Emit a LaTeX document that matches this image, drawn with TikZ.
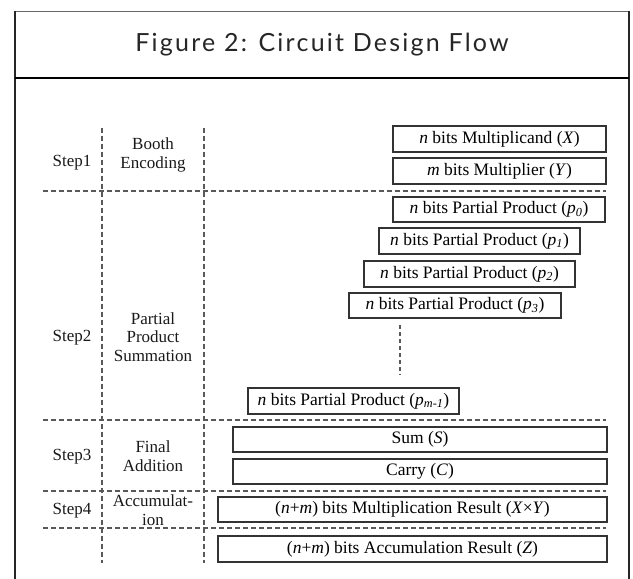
\documentclass[tikz,border=0pt]{standalone}
\usepackage{fontspec}
\setmainfont{Liberation Serif}
\newfontfamily\titlefont[LetterSpace=9]{Lato}
\begin{document}
\begin{tikzpicture}[x=1pt,y=-1pt,
  frameline/.style={draw=black!85,line width=1.6pt},
  grid/.style={draw=black!65,line width=1.3pt,dash pattern=on 5pt off 3pt},
  bitbox/.style={draw=black!80,line width=1.4pt,rectangle,inner sep=0pt,
    font=\fontsize{17.5}{19}\selectfont,text=black},
  steplabel/.style={font=\fontsize{17}{19}\selectfont,text=black!90},
  phaselabel/.style={font=\fontsize{17}{18.5}\selectfont,text=black!90,
    align=center,inner sep=0pt}]
\useasboundingbox (0,0) rectangle (633,579);
\clip (0,0) rectangle (633,579);
% outer frame and title band
\draw[draw=black!60,line width=1pt] (15,11) -- (629,11);
\draw[frameline] (15,11) -- (15,600);
\draw[frameline] (629,11) -- (629,600);
\draw[draw=black,line width=2.2pt] (15,78) -- (629,78);
\node[font=\titlefont\fontsize{25}{27}\selectfont,text=black!85] (title) at (322,45) {Figure 2: Circuit Design Flow};

% column separators
\coordinate (c1t) at (102,128); \coordinate (c1b) at (102,563);
\coordinate (c2t) at (204,128); \coordinate (c2b) at (204,563);
\draw[grid] (c1t) -- (c1b);
\draw[grid] (c2t) -- (c2b);
% row separators
\foreach \yy/\nm in {191/r1,420/r2,491/r3,528/r4}{
  \coordinate (\nm l) at (43,\yy); \coordinate (\nm r) at (606,\yy);
  \draw[grid] (\nm l) -- (\nm r);
}

% step names
\node[steplabel] (s1) at (72,163) {Step1};
\node[steplabel] (s2) at (72,338) {Step2};
\node[steplabel] (s3) at (72,457) {Step3};
\node[steplabel] (s4) at (72,511) {Step4};

% phase names
\node[phaselabel] (ph1) at (153,155) {Booth\\Encoding};
\node[phaselabel] (ph2) at (153,337) {Partial\\Product\\Summation};
\node[phaselabel] (ph3) at (153,456) {Final\\Addition};
\node[phaselabel] (ph4) at (153,510) {Accumulat-\\ion};

% operand and product registers
\node[bitbox,minimum width=213pt,minimum height=26pt] (bx) at (499.5,139)
  {\textit{n} bits Multiplicand (\textit{X})};
\node[bitbox,minimum width=213pt,minimum height=26pt] (by) at (499.5,171)
  {\textit{m} bits Multiplier (\textit{Y})};
\node[bitbox,minimum width=212pt,minimum height=25pt] (p0) at (499,209.5)
  {\textit{n} bits Partial Product (\textit{p}\textsubscript{\textit{0}})};
\node[bitbox,minimum width=201pt,minimum height=26pt] (p1) at (479.5,241)
  {\textit{n} bits Partial Product (\textit{p}\textsubscript{\textit{1}})};
\node[bitbox,minimum width=211pt,minimum height=26pt] (p2) at (469.5,274)
  {\textit{n} bits Partial Product (\textit{p}\textsubscript{\textit{2}})};
\node[bitbox,minimum width=212pt,minimum height=25pt] (p3) at (455,305.5)
  {\textit{n} bits Partial Product (\textit{p}\textsubscript{\textit{3}})};
\node[bitbox,minimum width=211pt,minimum height=26pt] (pm) at (353.5,401)
  {\textit{n} bits Partial Product (\textit{p}\textsubscript{\textit{m-1}})};
\coordinate (dt) at (400,325); \coordinate (db) at (400,375);
\draw[grid,dash pattern=on 4pt off 3pt] (dt) -- (db);

\node[bitbox,minimum width=374pt,minimum height=25pt] (sum) at (420,439.5)
  {Sum (\textit{S})};
\node[bitbox,minimum width=374pt,minimum height=25pt] (carry) at (420,471.5)
  {Carry (\textit{C})};
\node[bitbox,minimum width=389pt,minimum height=25pt] (mul) at (412.5,509.5)
  {(\textit{n}+\textit{m}) bits Multiplication Result (\textit{X}×\textit{Y})};
\node[bitbox,minimum width=389pt,minimum height=26pt] (acc) at (412.5,549)
  {(\textit{n}+\textit{m}) bits Accumulation Result (\textit{Z})};
\end{tikzpicture}
\end{document}
